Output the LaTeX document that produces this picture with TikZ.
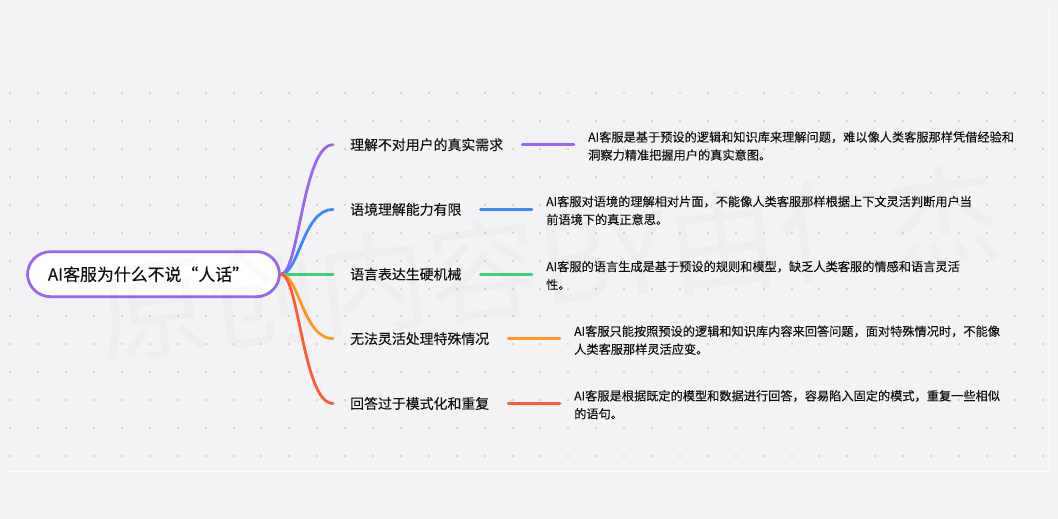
\documentclass[tikz,border=0pt]{standalone}
\usepackage{fontspec}
\setmainfont{Noto Sans CJK SC}[FakeBold=0.25]
\newfontfamily\markfont{Noto Sans CJK SC}
\definecolor{pagebg}{HTML}{F3F3F6}
\definecolor{griddot}{HTML}{D6D6D9}
\definecolor{cpurple}{HTML}{9B66F0}
\definecolor{cblue}{HTML}{3F86FF}
\definecolor{cgreen}{HTML}{3ED07F}
\definecolor{corange}{HTML}{FF9A1F}
\definecolor{cred}{HTML}{FF5A3C}
\definecolor{inkc}{HTML}{111111}
\tikzset{
  rootbox/.style={draw=cpurple,line width=2.8pt,fill=white,rounded corners=23pt,minimum width=252pt,minimum height=45pt,inner sep=0pt,text=inkc,font=\fontsize{16.9pt}{20pt}\selectfont},
  topicbox/.style={anchor=west,inner xsep=17pt,inner ysep=0pt,text=inkc,font=\fontsize{13.9pt}{17pt}\selectfont},
  detailbox/.style={anchor=west,inner xsep=13pt,inner ysep=0pt,align=left,text=inkc,font=\fontsize{12.2pt}{18pt}\selectfont},
  branch/.style={line width=2.8pt,line cap=round},
  tail/.style={branch,shorten <=2pt,shorten >=1pt},
}
\begin{document}
\begin{tikzpicture}[x=1pt,y=-1pt]
\useasboundingbox (0,0) rectangle (1058,519);
\fill[pagebg] (0,0) rectangle (1058,519);
\draw[white,opacity=.6,line width=.8pt] (5,471.5) -- (1048,471.5) -- (1048,5);
\foreach \r in {0,...,13}
  \foreach \c in {0,...,37}
    \fill[griddot] ({10.3+27.9*\c-1},{93.2+27.9*\r-1}) rectangle +(2,2);

\node[rootbox] (root) at (153.5,274.2) {AI客服为什么不说“人话”\kern10pt};

\node[topicbox] (t1) at (333,144.7) {理解不对用户的真实需求};
\node[topicbox] (t2) at (333,209.4) {语境理解能力有限};
\node[topicbox] (t3) at (333,274.2) {语言表达生硬机械};
\node[topicbox] (t4) at (333,338.7) {无法灵活处理特殊情况};
\node[topicbox] (t5) at (333,403.5) {回答过于模式化和重复};

\node[detailbox] (d1) at (575,146) {AI客服是基于预设的逻辑和知识库来理解问题，难以像人类客服那样凭借经验和\\洞察力精准把握用户的真实意图。};
\node[detailbox] (d2) at (533,210.5) {AI客服对语境的理解相对片面，不能像人类客服那样根据上下文灵活判断用户当\\前语境下的真正意思。};
\node[detailbox] (d3) at (533,275.5) {AI客服的语言生成是基于预设的规则和模型，缺乏人类客服的情感和语言灵活\\性。};
\node[detailbox] (d4) at (561,340.2) {AI客服只能按照预设的逻辑和知识库内容来回答问题，面对特殊情况时，不能像\\人类客服那样灵活应变。};
\node[detailbox] (d5) at (561,404.8) {AI客服是根据既定的模型和数据进行回答，容易陷入固定的模式，重复一些相似\\的语句。};

\draw[branch,cpurple] (root.east) .. controls +(18,0) and +(-30,0) .. (t1.west);
\draw[branch,cblue]   (root.east) .. controls +(18,0) and +(-30,0) .. (t2.west);
\draw[branch,cgreen]  (root.east) -- (t3.west);
\draw[branch,corange] (root.east) .. controls +(18,0) and +(-30,0) .. (t4.west);
\draw[branch,cred]    (root.east) .. controls +(18,0) and +(-30,0) .. (t5.west);

\draw[tail,cpurple] (t1.east) -- (t1.east -| d1.west);
\draw[tail,cblue]   (t2.east) -- (t2.east -| d2.west);
\draw[tail,cgreen]  (t3.east) -- (t3.east -| d3.west);
\draw[tail,corange] (t4.east) -- (t4.east -| d4.west);
\draw[tail,cred]    (t5.east) -- (t5.east -| d5.west);

\node[opacity=.018,text=black,rotate=6.6,font=\markfont\fontsize{111pt}{115pt}\selectfont,inner sep=0pt] (wm) at (548,262) {原创内容BY由仁杰};
\end{tikzpicture}
\end{document}
